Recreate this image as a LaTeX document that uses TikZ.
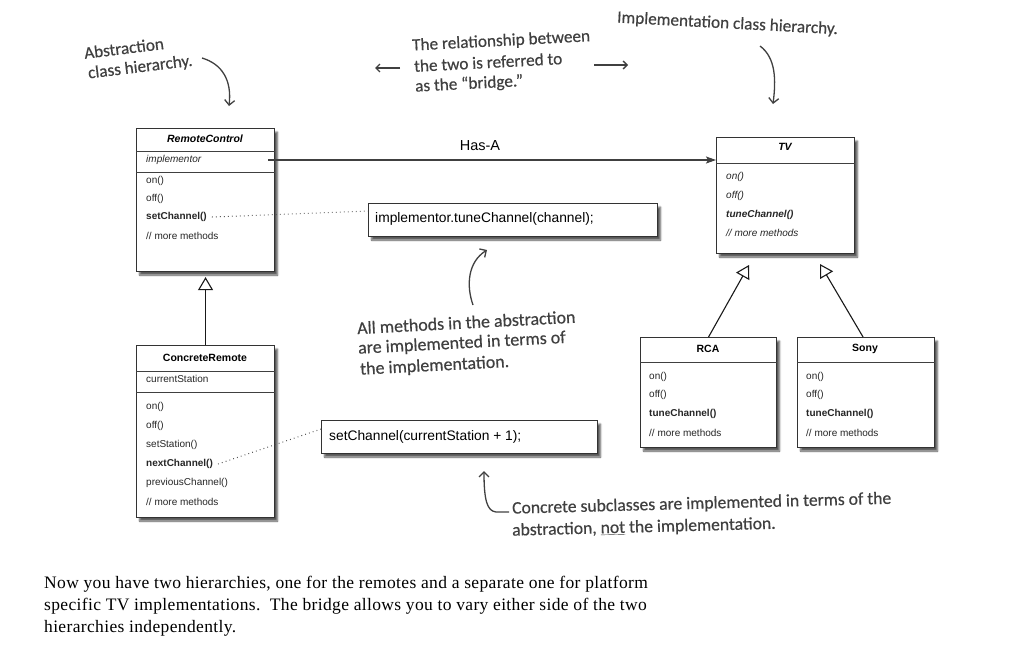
\documentclass[tikz,border=0pt]{standalone}
\usepackage{fontspec}
\setsansfont{Liberation Sans}
\newfontfamily\handfont[FakeBold=0.5]{Carlito}
\newfontfamily\parafont[LetterSpace=2]{Liberation Serif}
\usetikzlibrary{arrows.meta,shadows.blur,calc}
\begin{document}
\begin{tikzpicture}[x=1pt,y=-1pt,
  box/.style={draw=black!80, line width=1.1pt, fill=white, anchor=north west, inner sep=0pt,
    blur shadow={shadow xshift=3pt, shadow yshift=-3.5pt, shadow blur steps=7, shadow opacity=65}},
  sepline/.style={draw=black!75, line width=1pt},
  mt/.style={anchor=west, inner sep=0pt, font=\sffamily\fontsize{10}{12}\selectfont, text=black!85},
  tt/.style={inner sep=0pt, font=\sffamily\bfseries\fontsize{10.5}{12}\selectfont},
  code/.style={anchor=west, inner sep=0pt, font=\sffamily\fontsize{13.8}{16}\selectfont},
  hand/.style={anchor=west, inner sep=0pt, font=\handfont\fontsize{17.2}{20}\selectfont, text=black!75},
  handarrow/.style={draw=black!75, line width=1.3pt, -{Straight Barb[length=5pt,width=10pt]}},
  dots/.style={draw=black!70, line width=1pt, dash pattern=on 0.8pt off 3.2pt},
  gen/.style={draw=black!90, line width=1.1pt, -{Triangle[open,length=13pt,width=15pt,fill=white]}},
  hasa/.style={draw=black!75, line width=1.1pt, -{Stealth[length=10pt,width=7pt,inset=2pt]}}
]
\useasboundingbox (0,0) rectangle (1013,667);

% ---------- RemoteControl ----------
\node[box, minimum width=138pt, minimum height=143pt] (rc) at (136,128) {};
\draw[sepline] ($(rc.north west)+(0,23)$) -- ($(rc.north east)+(0,23)$);
\draw[sepline] ($(rc.north west)+(0,44)$) -- ($(rc.north east)+(0,44)$);
\node[tt, font=\sffamily\bfseries\itshape\fontsize{10.5}{12}\selectfont] (rc-t) at (205,139) {RemoteControl};
\node[mt, font=\sffamily\itshape\fontsize{10}{12}\selectfont] (rc-impl) at (146,160) {implementor};
\node[mt] (rc-on) at (146,181) {on()};
\node[mt] (rc-off) at (146,199) {off()};
\node[mt, font=\sffamily\bfseries\fontsize{10}{12}\selectfont] (rc-set) at (146,217) {setChannel()};
\node[mt] (rc-more) at (146,236) {// more methods};

% ---------- TV ----------
\node[box, minimum width=138pt, minimum height=116pt] (tv) at (716,137) {};
\draw[sepline] ($(tv.north west)+(0,26)$) -- ($(tv.north east)+(0,26)$);
\node[tt, font=\sffamily\bfseries\itshape\fontsize{10.5}{12}\selectfont] (tv-t) at (785,147) {TV};
\node[mt, font=\sffamily\itshape\fontsize{10}{12}\selectfont] (tv-on) at (726,177) {on()};
\node[mt, font=\sffamily\itshape\fontsize{10}{12}\selectfont] (tv-off) at (726,196) {off()};
\node[mt, font=\sffamily\bfseries\itshape\fontsize{10}{12}\selectfont] (tv-tune) at (726,215) {tuneChannel()};
\node[mt, font=\sffamily\itshape\fontsize{10}{12}\selectfont] (tv-more) at (726,233) {// more methods};

% ---------- Has-A ----------
\coordinate (hasaS) at (268,160);
\draw[hasa] (hasaS) -- (hasaS -| tv.west);
\node[inner sep=0pt, font=\sffamily\fontsize{14.5}{16}\selectfont] (hasalbl) at (480,146) {Has-A};

% ---------- implementor.tuneChannel box ----------
\node[box, minimum width=289pt, minimum height=33pt] (implbox) at (368,203) {};
\node[code] (impltxt) at (375,219) {implementor.tuneChannel(channel);};
\draw[dots] ([xshift=5pt]rc-set.east) -- ([yshift=9pt]implbox.west);

% ---------- ConcreteRemote ----------
\node[box, minimum width=138pt, minimum height=172pt] (cr) at (136,345) {};
\draw[sepline] ($(cr.north west)+(0,26)$) -- ($(cr.north east)+(0,26)$);
\draw[sepline] ($(cr.north west)+(0,47)$) -- ($(cr.north east)+(0,47)$);
\node[tt] (cr-t) at (205,358) {ConcreteRemote};
\node[mt] (cr-cs) at (146,379) {currentStation};
\node[mt] (cr-on) at (146,407) {on()};
\node[mt] (cr-off) at (146,426) {off()};
\node[mt] (cr-ss) at (146,445) {setStation()};
\node[mt, font=\sffamily\bfseries\fontsize{10}{12}\selectfont] (cr-next) at (146,464) {nextChannel()};
\node[mt] (cr-prev) at (146,483) {previousChannel()};
\node[mt] (cr-more) at (146,502) {// more methods};

\draw[gen, shorten >=5pt] (cr.north) -- (rc.south);

% ---------- setChannel box ----------
\node[box, minimum width=276pt, minimum height=33pt] (setbox) at (321,420) {};
\node[code] (settxt) at (329,437) {setChannel(currentStation + 1);};
\draw[dots] ([xshift=5pt]cr-next.east) -- ([yshift=8pt]setbox.west);

% ---------- RCA ----------
\node[box, minimum width=136pt, minimum height=110pt] (rca) at (640,337) {};
\draw[sepline] ($(rca.north west)+(0,25)$) -- ($(rca.north east)+(0,25)$);
\node[tt] (rca-t) at (708,349) {RCA};
\node[mt] (rca-on) at (649,377) {on()};
\node[mt] (rca-off) at (649,395) {off()};
\node[mt, font=\sffamily\bfseries\fontsize{10}{12}\selectfont] (rca-tune) at (649,414) {tuneChannel()};
\node[mt] (rca-more) at (649,433) {// more methods};

% ---------- Sony ----------
\node[box, minimum width=137pt, minimum height=110pt] (sony) at (797,337) {};
\draw[sepline] ($(sony.north west)+(0,25)$) -- ($(sony.north east)+(0,25)$);
\node[tt] (sony-t) at (865,349) {Sony};
\node[mt] (sony-on) at (806,377) {on()};
\node[mt] (sony-off) at (806,395) {off()};
\node[mt, font=\sffamily\bfseries\fontsize{10}{12}\selectfont] (sony-tune) at (806,414) {tuneChannel()};
\node[mt] (sony-more) at (806,433) {// more methods};

\coordinate (tvA) at (749,265);
\coordinate (tvB) at (820,264);
\draw[gen] (rca.north) -- (tvA);
\draw[gen] ([xshift=-3pt]sony.north) -- (tvB);

% ---------- handwritten notes ----------
\node[hand, rotate=7] (abs1) at (84,53) {Abstraction};
\node[hand, rotate=7] (abs2) at (88,74) {class hierarchy.};
\coordinate (absA) at (202,58);
\coordinate (absB) at (229,106);
\draw[handarrow] (absA) .. controls (222,64) and (232,80) .. (absB);

\node[hand, rotate=3] (br1) at (412,46) {The relationship between};
\node[hand, rotate=3] (br2) at (414,66) {the two is referred to};
\node[hand, rotate=3] (br3) at (415,87) {as the “bridge.”};
\coordinate (brL1) at (400,68);
\coordinate (brL2) at (375,68);
\coordinate (brR1) at (594,65);
\coordinate (brR2) at (628,65);
\draw[handarrow, -{Straight Barb[length=4pt,width=8pt]}] (brL1) -- (brL2);
\draw[handarrow, -{Straight Barb[length=4pt,width=8pt]}] (brR1) -- (brR2);

\node[hand, rotate=-3] (implnote) at (617,18) {Implementation class hierarchy.};
\coordinate (imA) at (760,46);
\coordinate (imB) at (773,104);
\draw[handarrow] (imA) .. controls (776,58) and (776,80) .. (imB);

\node[hand, rotate=3, font=\handfont\fontsize{17.9}{20}\selectfont] (al1) at (357,328) {All methods in the abstraction};
\node[hand, rotate=3, font=\handfont\fontsize{17.9}{20}\selectfont] (al2) at (358,349) {are implemented in terms of};
\node[hand, rotate=3, font=\handfont\fontsize{17.9}{20}\selectfont] (al3) at (360,370) {the implementation.};
\coordinate (alA) at (473,305);
\coordinate (alB) at (487,250);
\draw[handarrow] (alA) .. controls (466,285) and (468,262) .. (alB);

\node[hand, rotate=1.5, font=\handfont\fontsize{17.6}{20}\selectfont] (co1) at (512,509) {Concrete subclasses are implemented in terms of the};
\node[hand, rotate=1.5, font=\handfont\fontsize{17.6}{20}\selectfont] (co2) at (512,531) {abstraction, \underline{not} the implementation.};
\coordinate (coA) at (509,512);
\coordinate (coB) at (484,471);
\draw[handarrow] (coA) -- (496,512) .. controls (487,511) and (484,500) .. (coB);

% ---------- paragraph ----------
\node[anchor=north west, inner sep=0pt, align=left, font=\parafont\fontsize{17.5}{22}\selectfont] (para) at (44,576)
 {Now you have two hierarchies, one for the remotes and a separate one for platform\\
  specific TV implementations.\ \ The bridge allows you to vary either side of the two\\
  hierarchies independently.};
\end{tikzpicture}
\end{document}
